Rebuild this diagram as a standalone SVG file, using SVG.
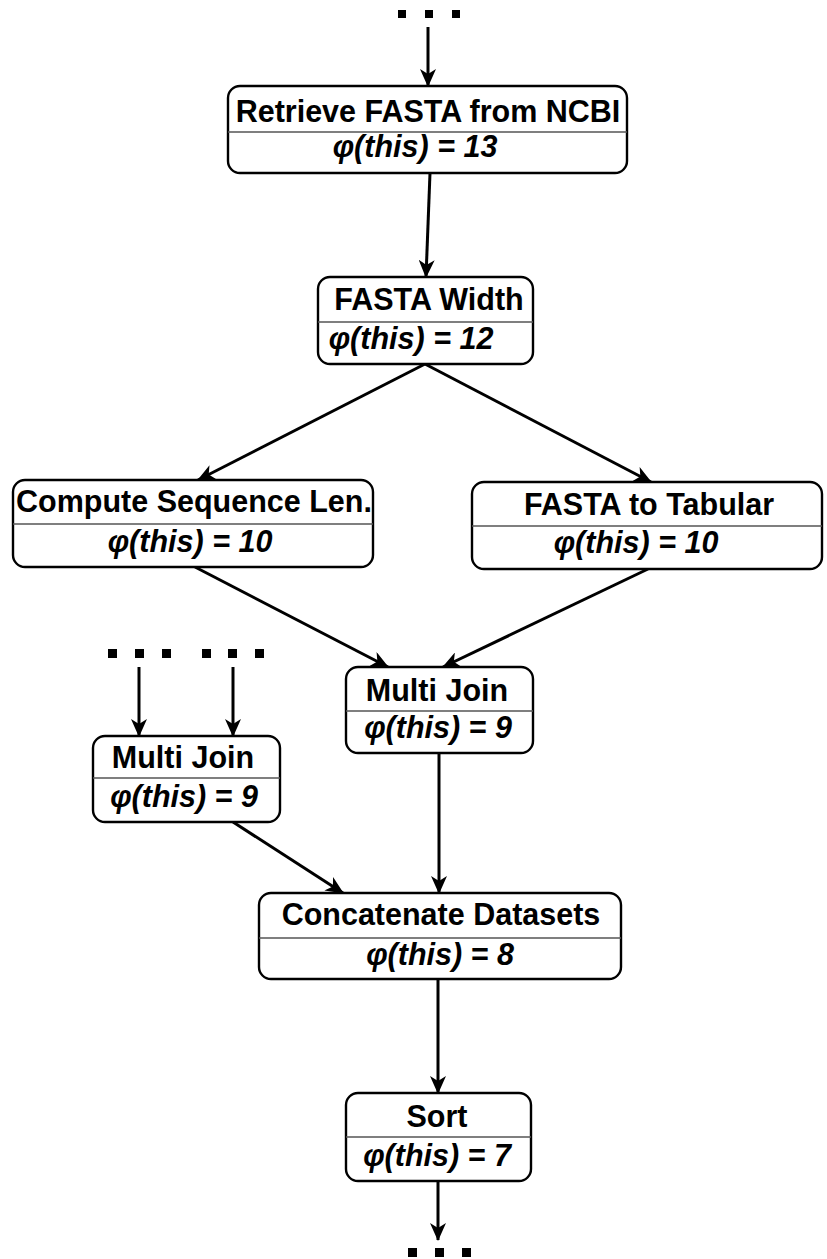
<svg xmlns="http://www.w3.org/2000/svg" width="827" height="1259" viewBox="0 0 827 1259">
<style>
.box{fill:#fff;stroke:#000;stroke-width:2.4}
.div{stroke:#555;stroke-width:1.6}
.t{font-family:"Liberation Sans",Arial,sans-serif;font-size:30.5px;font-weight:bold;fill:#000;text-anchor:middle}
.p{font-family:"Liberation Sans",Arial,sans-serif;font-size:30.5px;font-weight:bold;font-style:italic;fill:#000;text-anchor:middle}
.e{stroke:#000;stroke-width:3;fill:none;marker-end:url(#arr)}
.dot{fill:#000}
</style>
<defs>
<marker id="arr" viewBox="0 0 18 16" refX="17" refY="8" markerWidth="18" markerHeight="16" markerUnits="userSpaceOnUse" orient="auto">
<path d="M0,0 L18,8 L0,16 L5,8 Z" fill="#000"/>
</marker>
</defs>
<g id="dots">
<rect class="dot" x="398" y="10" width="8" height="8"/>
<rect class="dot" x="425" y="10" width="8" height="8"/>
<rect class="dot" x="452" y="10" width="8" height="8"/>
<rect class="dot" x="108" y="649" width="9" height="9"/>
<rect class="dot" x="135" y="649" width="9" height="9"/>
<rect class="dot" x="162" y="649" width="9" height="9"/>
<rect class="dot" x="202" y="649" width="9" height="9"/>
<rect class="dot" x="228" y="649" width="9" height="9"/>
<rect class="dot" x="255" y="649" width="9" height="9"/>
<rect class="dot" x="408" y="1248" width="9" height="9"/>
<rect class="dot" x="435" y="1248" width="9" height="9"/>
<rect class="dot" x="462" y="1248" width="9" height="9"/>
</g>
<g id="connectors">
<line class="e" x1="428" y1="27" x2="428" y2="86"/>
<line class="e" x1="430" y1="173" x2="426" y2="277"/>
<line class="e" x1="425" y1="364" x2="198" y2="480"/>
<line class="e" x1="425" y1="364" x2="651" y2="482"/>
<line class="e" x1="195" y1="567" x2="388" y2="667"/>
<line class="e" x1="648" y1="569" x2="443" y2="667"/>
<line class="e" x1="139" y1="667" x2="139" y2="736"/>
<line class="e" x1="233" y1="667" x2="233" y2="736"/>
<line class="e" x1="233" y1="822" x2="343" y2="893"/>
<line class="e" x1="439" y1="753" x2="439" y2="893"/>
<line class="e" x1="438" y1="979" x2="438" y2="1093"/>
<line class="e" x1="438" y1="1181" x2="438" y2="1240"/>
</g>
<g id="n1">
<rect class="box" x="228" y="86" width="399" height="87" rx="12"/>
<line class="div" x1="228" y1="132" x2="627" y2="132"/>
<text class="t" x="428" y="122">Retrieve FASTA from NCBI</text>
<text class="p" x="415" y="157">φ(this) = 13</text>
</g>
<g id="n2">
<rect class="box" x="318" y="277" width="215" height="87" rx="12"/>
<line class="div" x1="318" y1="322" x2="533" y2="322"/>
<text class="t" x="429" y="310">FASTA Width</text>
<text class="p" x="411" y="349">φ(this) = 12</text>
</g>
<g id="n3">
<rect class="box" x="13" y="480" width="360" height="87" rx="12"/>
<line class="div" x1="13" y1="524" x2="373" y2="524"/>
<text class="t" x="194" y="512">Compute Sequence Len.</text>
<text class="p" x="190" y="552">φ(this) = 10</text>
</g>
<g id="n4">
<rect class="box" x="472" y="482" width="350" height="87" rx="12"/>
<line class="div" x1="472" y1="526" x2="822" y2="526"/>
<text class="t" x="649" y="515">FASTA to Tabular</text>
<text class="p" x="636" y="553">φ(this) = 10</text>
</g>
<g id="n5">
<rect class="box" x="346" y="667" width="187" height="86" rx="12"/>
<line class="div" x1="346" y1="711" x2="533" y2="711"/>
<text class="t" x="437" y="701">Multi Join</text>
<text class="p" x="438" y="738">φ(this) = 9</text>
</g>
<g id="n6">
<rect class="box" x="93" y="736" width="187" height="86" rx="12"/>
<line class="div" x1="93" y1="778" x2="280" y2="778"/>
<text class="t" x="183" y="768">Multi Join</text>
<text class="p" x="184" y="807">φ(this) = 9</text>
</g>
<g id="n7">
<rect class="box" x="259" y="893" width="362" height="86" rx="12"/>
<line class="div" x1="259" y1="938" x2="621" y2="938"/>
<text class="t" x="441" y="925">Concatenate Datasets</text>
<text class="p" x="440" y="965">φ(this) = 8</text>
</g>
<g id="n8">
<rect class="box" x="346" y="1093" width="185" height="88" rx="12"/>
<line class="div" x1="346" y1="1137" x2="531" y2="1137"/>
<text class="t" x="437" y="1127">Sort</text>
<text class="p" x="437" y="1166">φ(this) = 7</text>
</g>
</svg>
